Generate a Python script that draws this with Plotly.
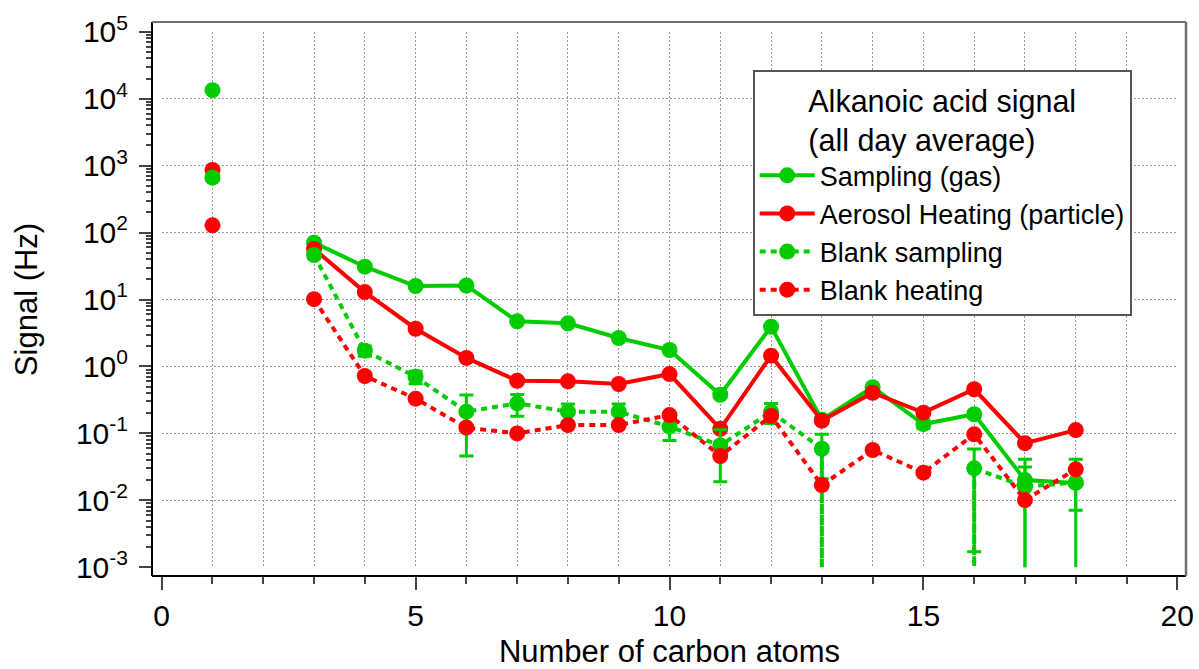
import plotly.graph_objects as go

# ---------------- data ----------------
carbon_atoms = [1, 2, 3, 4, 5, 6, 7, 8, 9, 10, 11, 12, 13, 14, 15, 16, 17, 18]

sampling_gas = [13400, None, 70.6, 30.9, 15.9, 16.2, 4.72, 4.41, 2.66, 1.76,
                0.378, 3.93, 0.160, 0.489, 0.138, 0.193, 0.0201, 0.0182]
sampling_gas_err = [0.02, 0, 0.02, 0.02, 0.02, 0.02, 0.02, 0.02, 0.02, 0.02,
                    0.02, 0.02, 0.02, 0.02, 0.02, 0.02, 0.021, 0.023]

aerosol_heating = [860, None, 57, 12.9, 3.66, 1.34, 0.612, 0.60, 0.547, 0.77,
                   0.117, 1.45, 0.155, 0.405, 0.204, 0.456, 0.0715, 0.112]

blank_sampling = [660, None, 46.2, 1.72, 0.70, 0.211, 0.281, 0.211, 0.211, 0.126,
                  0.066, 0.21, 0.059, 0, 0, 0.0301, 0.016, 0.0185]
blank_sampling_err = [50, 0, 5, 0.3, 0.15, 0.165, 0.1, 0.065, 0.065, 0.048,
                      0.047, 0.07, 0.038, 0, 0, 0.0284, 0.0155, 0.0114]

blank_heating = [128, None, 10.1, 0.72, 0.33, 0.122, 0.100, 0.133, 0.133, 0.188,
                 0.046, 0.182, 0.0169, 0.0565, 0.0259, 0.097, 0.0101, 0.0291]

y_exponents = [-3, -2, -1, 0, 1, 2, 3, 4, 5]
x_range = [0, 20]

# ---------------- style ----------------
GREEN = "#00CC00"
RED = "#FF0000"
FONT = "'Liberation Sans', Arial, sans-serif"
DOT = "6px,5px"
Y_MIN_EXP = y_exponents[0]
Y_MAX_EXP = y_exponents[-1]

fig = go.Figure()

fig.add_trace(go.Scatter(
    x=carbon_atoms, y=sampling_gas, mode="lines+markers", name="Sampling (gas)",
    line=dict(color=GREEN, width=4), marker=dict(color=GREEN, size=16),
    error_y=dict(type="data", array=sampling_gas_err, visible=True,
                 color=GREEN, thickness=3, width=7),
))
fig.add_trace(go.Scatter(
    x=carbon_atoms, y=aerosol_heating, mode="lines+markers",
    name="Aerosol Heating (particle)",
    line=dict(color=RED, width=4), marker=dict(color=RED, size=16),
))
fig.add_trace(go.Scatter(
    x=carbon_atoms, y=blank_sampling, mode="lines+markers", name="Blank sampling",
    line=dict(color=GREEN, width=4, dash=DOT), marker=dict(color=GREEN, size=16),
    error_y=dict(type="data", array=blank_sampling_err, visible=True,
                 color=GREEN, thickness=3, width=7),
))

# Non-positive values on the log axis: the connecting line drops to the axis bottom
drop_x, drop_y = [], []
n = len(blank_sampling)
for i, v in enumerate(blank_sampling):
    if v is None or v <= 0:
        continue
    prev_v = blank_sampling[i - 1] if i > 0 else None
    next_v = blank_sampling[i + 1] if i + 1 < n else None
    if (prev_v is not None and prev_v <= 0) or (next_v is not None and next_v <= 0):
        drop_x += [carbon_atoms[i], carbon_atoms[i], None]
        drop_y += [v, 10 ** Y_MIN_EXP, None]
fig.add_trace(go.Scatter(
    x=drop_x, y=drop_y, mode="lines", showlegend=False, hoverinfo="skip",
    line=dict(color=GREEN, width=4, dash=DOT),
))

fig.add_trace(go.Scatter(
    x=carbon_atoms, y=blank_heating, mode="lines+markers", name="Blank heating",
    line=dict(color=RED, width=4, dash=DOT), marker=dict(color=RED, size=16),
))

# ---------------- geometry ----------------
W, H = 1199, 669
frame_l, frame_r, frame_t, frame_b = 152, 1186, 22, 576
pw, ph = frame_r - frame_l, frame_b - frame_t
x0_px, x20_px = 161.7, 1177.3
ytop_px, ybot_px = 31.7, 567.3
x_dom = [(x0_px - frame_l) / pw, (x20_px - frame_l) / pw]
y_dom = [(frame_b - ybot_px) / ph, (frame_b - ytop_px) / ph]

y_tickvals = [10 ** e for e in y_exponents]
y_ticktext = ["10<sup>%d</sup>" % e for e in y_exponents]
y_minor_vals = [m * 10 ** e for e in y_exponents[:-1] for m in range(2, 10)]

GRID = "#9a9a9a"

fig.update_layout(
    width=W, height=H,
    margin=dict(l=frame_l, r=W - frame_r, t=frame_t, b=H - frame_b, autoexpand=False),
    paper_bgcolor="white", plot_bgcolor="white",
    font=dict(family=FONT, color="black", size=27),
    showlegend=True,
    legend=dict(
        x=(752.7 - frame_l) / pw, y=(frame_b - 70) / ph,
        xanchor="left", yanchor="top",
        bgcolor="white", bordercolor="#555555", borderwidth=2,
        font=dict(family=FONT, size=27, color="black"),
        title=dict(text="Alkanoic acid signal<br>(all day average)",
                   side="top center", font=dict(family=FONT, size=30.5, color="black")),
        tracegroupgap=0, itemwidth=55,
    ),
    xaxis=dict(
        domain=x_dom, range=x_range, anchor="free", position=0,
        showline=False, zeroline=False,
        tickmode="linear", tick0=0, dtick=5,
        ticks="outside", ticklen=13, tickwidth=1.5, tickcolor="#444444",
        tickfont=dict(family=FONT, size=30, color="black"),
        showgrid=True, gridcolor=GRID, gridwidth=1, griddash="2px,2px",
        minor=dict(dtick=1, tick0=0, ticks="outside", ticklen=7, tickwidth=1.5,
                   tickcolor="#444444", showgrid=True, gridcolor=GRID,
                   gridwidth=1, griddash="2px,2px"),
        title=dict(text="Number of carbon atoms",
                   font=dict(family=FONT, size=31, color="black"), standoff=12),
    ),
    yaxis=dict(
        type="log", domain=y_dom, range=[Y_MIN_EXP, Y_MAX_EXP],
        anchor="free", position=0,
        showline=False, zeroline=False,
        tickmode="array", tickvals=y_tickvals, ticktext=y_ticktext,
        ticks="outside", ticklen=13, tickwidth=1.5, tickcolor="#444444",
        tickfont=dict(family=FONT, size=30, color="black"),
        ticklabelstandoff=5,
        showgrid=True, gridcolor=GRID, gridwidth=1, griddash="2px,2px",
        minor=dict(tickmode="array", tickvals=y_minor_vals, ticks="outside",
                   ticklen=6, tickwidth=1.5, tickcolor="#444444", showgrid=False),
        title=dict(text="Signal (Hz)",
                   font=dict(family=FONT, size=31, color="black"), standoff=28),
    ),
    shapes=[
        dict(type="line", xref="paper", yref="paper", x0=0, x1=0, y0=0, y1=1,
             line=dict(color="black", width=2)),
        dict(type="line", xref="paper", yref="paper", x0=0, x1=1, y0=0, y1=0,
             line=dict(color="black", width=2)),
        dict(type="line", xref="paper", yref="paper", x0=0, x1=1, y0=1, y1=1,
             line=dict(color="#707070", width=2)),
        dict(type="line", xref="paper", yref="paper", x0=1, x1=1, y0=0, y1=1,
             line=dict(color="#707070", width=2.5)),
    ],
)

fig.write_html("out.html")
